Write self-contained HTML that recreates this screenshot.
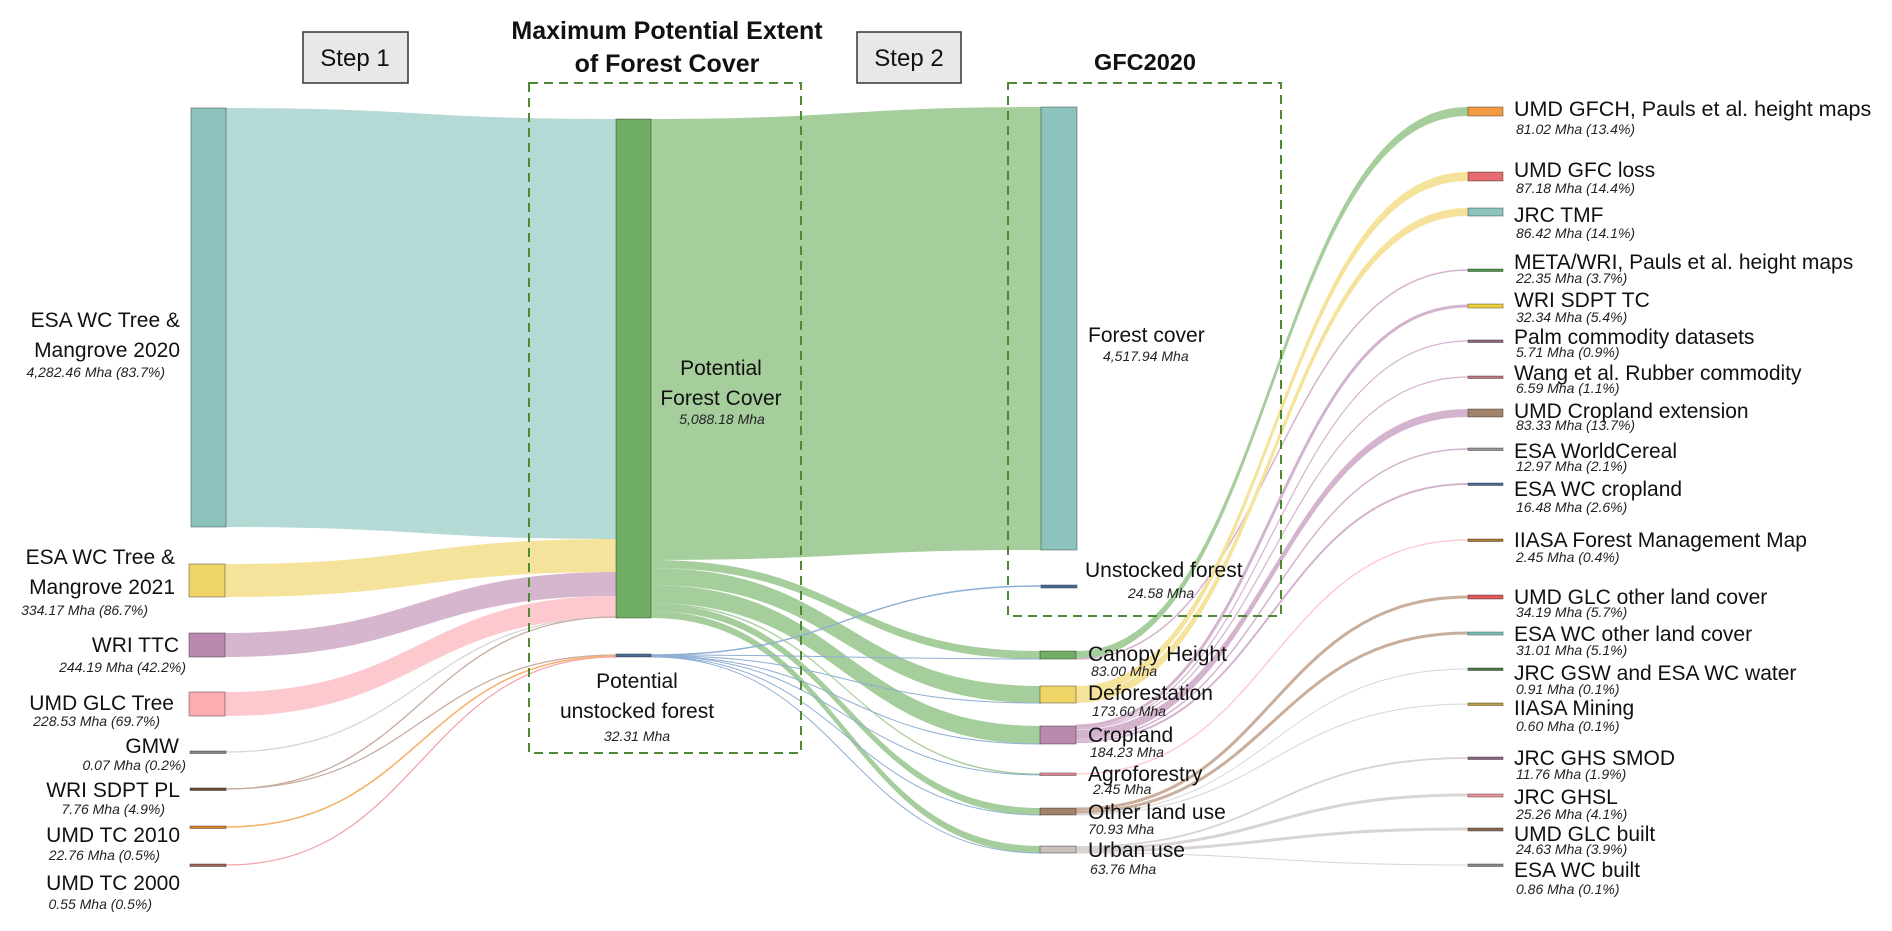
<!DOCTYPE html>
<html><head><meta charset="utf-8"><style>
html,body{margin:0;padding:0;background:#fff;}
svg{display:block;font-family:"Liberation Sans",sans-serif;}
.l{font-size:21px;fill:#111;}
.n{font-size:14px;font-style:italic;fill:#222;}
.t{font-size:25px;font-weight:bold;fill:#111;}
</style></head><body>
<svg id="s" width="1892" height="931" viewBox="0 0 1892 931" xmlns="http://www.w3.org/2000/svg">
<g id="flows"></g>
<rect x="303" y="32" width="105" height="51" fill="#e8e8e8" stroke="#333" stroke-width="1.5"/>
<text x="355" y="66" class="l" text-anchor="middle" style="font-size:24px">Step 1</text>
<rect x="857" y="32" width="104" height="51" fill="#e8e8e8" stroke="#333" stroke-width="1.5"/>
<text x="909" y="66" class="l" text-anchor="middle" style="font-size:24px">Step 2</text>
<text x="667" y="39" class="t" text-anchor="middle">Maximum Potential Extent</text>
<text x="667" y="72" class="t" text-anchor="middle">of Forest Cover</text>
<text x="1145" y="70" class="t" text-anchor="middle" style="font-size:23.5px">GFC2020</text>
<rect x="529" y="83" width="272" height="670" fill="none" stroke="#4f8a32" stroke-width="2" stroke-dasharray="9,6"/>
<rect x="1008" y="83" width="273" height="533" fill="none" stroke="#4f8a32" stroke-width="2" stroke-dasharray="9,6"/>
<g id="nodes"></g>
<g text-anchor="end">
<text x="180" y="327" class="l">ESA WC Tree &amp;</text>
<text x="180" y="357" class="l">Mangrove 2020</text>
<text x="165" y="377" class="n">4,282.46 Mha (83.7%)</text>
<text x="175" y="564" class="l">ESA WC Tree &amp;</text>
<text x="175" y="594" class="l">Mangrove 2021</text>
<text x="148" y="615" class="n">334.17 Mha (86.7%)</text>
<text x="179" y="652" class="l">WRI TTC</text>
<text x="186" y="672" class="n">244.19 Mha (42.2%)</text>
<text x="174" y="710" class="l">UMD GLC Tree</text>
<text x="160" y="726" class="n">228.53 Mha (69.7%)</text>
<text x="179" y="753" class="l">GMW</text>
<text x="186" y="770" class="n">0.07 Mha (0.2%)</text>
<text x="180" y="797" class="l">WRI SDPT PL</text>
<text x="165" y="814" class="n">7.76 Mha (4.9%)</text>
<text x="180" y="842" class="l">UMD TC 2010</text>
<text x="160" y="860" class="n">22.76 Mha (0.5%)</text>
<text x="180" y="890" class="l">UMD TC 2000</text>
<text x="152" y="909" class="n">0.55 Mha (0.5%)</text>
</g>
<g text-anchor="middle">
<text x="721" y="375" class="l">Potential</text>
<text x="721" y="405" class="l">Forest Cover</text>
<text x="722" y="424" class="n">5,088.18 Mha</text>
<text x="637" y="688" class="l">Potential</text>
<text x="637" y="718" class="l">unstocked forest</text>
<text x="637" y="741" class="n">32.31 Mha</text>
</g>
<text x="1088" y="342" class="l">Forest cover</text>
<text x="1103" y="361" class="n">4,517.94 Mha</text>
<text x="1085" y="577" class="l">Unstocked forest</text>
<text x="1128" y="598" class="n">24.58 Mha</text>
<text x="1088" y="661" class="l">Canopy Height</text>
<text x="1091" y="676" class="n">83.00 Mha</text>
<text x="1088" y="700" class="l">Deforestation</text>
<text x="1092" y="716" class="n">173.60 Mha</text>
<text x="1088" y="742" class="l">Cropland</text>
<text x="1090" y="757" class="n">184.23 Mha</text>
<text x="1088" y="781" class="l">Agroforestry</text>
<text x="1093" y="794" class="n">2.45 Mha</text>
<text x="1088" y="819" class="l">Other land use</text>
<text x="1088" y="834" class="n">70.93 Mha</text>
<text x="1088" y="857" class="l">Urban use</text>
<text x="1090" y="874" class="n">63.76 Mha</text>
<g>
<text x="1514" y="116" class="l" style="font-size:21.5px">UMD GFCH, Pauls et al. height maps</text><text x="1516" y="134" class="n">81.02 Mha (13.4%)</text>
<text x="1514" y="177" class="l">UMD GFC loss</text><text x="1516" y="193" class="n">87.18 Mha (14.4%)</text>
<text x="1514" y="222" class="l">JRC TMF</text><text x="1516" y="238" class="n">86.42 Mha (14.1%)</text>
<text x="1514" y="269" class="l">META/WRI, Pauls et al. height maps</text><text x="1516" y="283" class="n">22.35 Mha (3.7%)</text>
<text x="1514" y="307" class="l">WRI SDPT TC</text><text x="1516" y="322" class="n">32.34 Mha (5.4%)</text>
<text x="1514" y="344" class="l">Palm commodity datasets</text><text x="1516" y="357" class="n">5.71 Mha (0.9%)</text>
<text x="1514" y="380" class="l">Wang et al. Rubber commodity</text><text x="1516" y="393" class="n">6.59 Mha (1.1%)</text>
<text x="1514" y="418" class="l">UMD Cropland extension</text><text x="1516" y="430" class="n">83.33 Mha (13.7%)</text>
<text x="1514" y="458" class="l">ESA WorldCereal</text><text x="1516" y="471" class="n">12.97 Mha (2.1%)</text>
<text x="1514" y="496" class="l">ESA WC cropland</text><text x="1516" y="512" class="n">16.48 Mha (2.6%)</text>
<text x="1514" y="547" class="l">IIASA Forest Management Map</text><text x="1516" y="562" class="n">2.45 Mha (0.4%)</text>
<text x="1514" y="604" class="l">UMD GLC other land cover</text><text x="1516" y="617" class="n">34.19 Mha (5.7%)</text>
<text x="1514" y="641" class="l">ESA WC other land cover</text><text x="1516" y="655" class="n">31.01 Mha (5.1%)</text>
<text x="1514" y="680" class="l">JRC GSW and ESA WC water</text><text x="1516" y="694" class="n">0.91 Mha (0.1%)</text>
<text x="1514" y="715" class="l">IIASA Mining</text><text x="1516" y="731" class="n">0.60 Mha (0.1%)</text>
<text x="1514" y="765" class="l">JRC GHS SMOD</text><text x="1516" y="779" class="n">11.76 Mha (1.9%)</text>
<text x="1514" y="804" class="l">JRC GHSL</text><text x="1516" y="819" class="n">25.26 Mha (4.1%)</text>
<text x="1514" y="841" class="l">UMD GLC built</text><text x="1516" y="854" class="n">24.63 Mha (3.9%)</text>
<text x="1514" y="877" class="l">ESA WC built</text><text x="1516" y="894" class="n">0.86 Mha (0.1%)</text>
</g>
</svg>
<script>
var NS="http://www.w3.org/2000/svg";
var F=document.getElementById('flows'),N=document.getElementById('nodes');
function rib(x0,a0,b0,x1,a1,b1,c,o){var m=(x0+x1)/2;var p=document.createElementNS(NS,'path');
p.setAttribute('d','M'+x0+' '+a0+'C'+m+' '+a0+' '+m+' '+a1+' '+x1+' '+a1+'L'+x1+' '+b1+'C'+m+' '+b1+' '+m+' '+b0+' '+x0+' '+b0+'Z');
p.setAttribute('fill',c);p.setAttribute('fill-opacity',o||1);F.appendChild(p);}
function ln(x0,y0,x1,y1,c,w){var m=(x0+x1)/2;var p=document.createElementNS(NS,'path');
p.setAttribute('d','M'+x0+' '+y0+'C'+m+' '+y0+' '+m+' '+y1+' '+x1+' '+y1);p.setAttribute('fill','none');p.setAttribute('stroke',c);p.setAttribute('stroke-width',w||1.2);F.appendChild(p);}
function nd(x,y,w,h,c,s){var r=document.createElementNS(NS,'rect');r.setAttribute('x',x);r.setAttribute('y',y);r.setAttribute('width',w);r.setAttribute('height',Math.max(h,2.5));r.setAttribute('fill',c);r.setAttribute('stroke',s||'rgba(0,0,0,0.35)');r.setAttribute('stroke-width',1);N.appendChild(r);}
rib(226,108,527,616,119,539,'#b5d9d5');
rib(225,564,597,616,539,572,'#f5e39b');
rib(225,633,657,616,572,596,'#d6b6cf');
rib(225,692,716,616,596,618,'#fdc9cf');
ln(226,752,616,617,'#d6d6d6',1.3);
ln(226,789,616,617,'#c8ad9e',1.3);
ln(226,789,616,655,'#c8ad9e',1.3);
ln(226,827,616,656,'#f7b26a',1.6);
ln(226,865,616,657,'#f4a3a8',1.3);
rib(651,119,560,1041,107,550,'#a6cd9c');
var G='#a6cd9c';
rib(651,560,568,1041,651,659,G);
rib(651,568,585,1041,686,703,G);
rib(651,585,603,1041,726,744,G);
rib(651,603,604.5,1041,773.5,775,G);
rib(651,604,611,1041,808,815,G);
rib(651,611,618,1041,846,853,G);
var B='#8eaed3';
ln(651,655,1041,586,B,1.4);
ln(651,655,1041,659,B,1);ln(651,655.5,1041,703,B,1);ln(651,656,1041,744,B,1);
ln(651,656,1041,775,B,1);ln(651,656.5,1041,815,B,1);ln(651,657,1041,853,B,1);
rib(1076,651,659,1468,107,116,'#a6cd9c');
ln(1076,659,1468,270,'#d4b3cf',1.5);
rib(1076,686,694,1468,172,181,'#f5e39b');
rib(1076,694,703,1468,208,216,'#f5e39b');
ln(1076,726,1468,306,'#d4b3cf',3);
ln(1076,728,1468,341,'#d4b3cf',1.2);
ln(1076,729,1468,377,'#d4b3cf',1.2);
rib(1076,730,739,1468,409,417,'#d4b3cf');
ln(1076,740,1468,449,'#d4b3cf',1.5);
ln(1076,742,1468,484,'#d4b3cf',2);
ln(1076,774,1468,540,'#ffc5cc',1.3);
ln(1076,809,1468,597,'#c9ae9b',3);
ln(1076,812,1468,633,'#c9ae9b',3);
ln(1076,814,1468,669,'#d6d6d6',1);
ln(1076,815,1468,704,'#d6d6d6',1);
ln(1076,847,1468,758,'#d9d4d1',1.8);
ln(1076,849,1468,795,'#d9d4d1',3);
ln(1076,851,1468,829,'#d9d4d1',3);
ln(1076,853,1468,865,'#d9d4d1',1);
nd(191,108,35,419,'#8cc4bd');
nd(189,564,36,33,'#efd466');
nd(189,633,36,24,'#b98aae');
nd(189,692,36,24,'#ffabb2');
nd(190,751,36,1.5,'#888');nd(190,788,36,1.5,'#6b4d3a');nd(190,826,36,2,'#e0832e');nd(190,864,36,1.5,'#a0685a');
nd(616,119,35,499,'#6fae64');
nd(616,654,35,3,'#4a6f98');
nd(1041,107,36,443,'#8cc4bd');
nd(1041,585,36,3,'#4a6f98');
nd(1040,651,36,8,'#6fae64');
nd(1040,686,36,17,'#efd466');
nd(1040,726,36,18,'#b98aae');
nd(1040,773,36,1.5,'#e88a96');
nd(1040,808,36,7,'#a3826b');
nd(1040,846,36,7,'#c9c1bc');
var R=[[107,9,'#f39a45'],[172,9,'#e56b6f'],[208,8,'#8cc4bd'],[269,2.5,'#4e9a44'],[304,4,'#efd040'],[340,2,'#8a6a80'],[376,2,'#c07a85'],[409,8,'#a3826b'],[448,2.5,'#999'],[483,2.5,'#4a6f98'],[539,2,'#b07a30'],[595,4,'#e05a5f'],[632,3,'#7ec4bd'],[668,2,'#4a7a4a'],[703,2,'#c0a040'],[757,2.5,'#8a6a80'],[794,3,'#f0959a'],[828,3,'#8a6a55'],[864,2,'#8a8a8a']];
R.forEach(function(r){nd(1468,r[0],35,r[1],r[2]);});
</script>
</body></html>
